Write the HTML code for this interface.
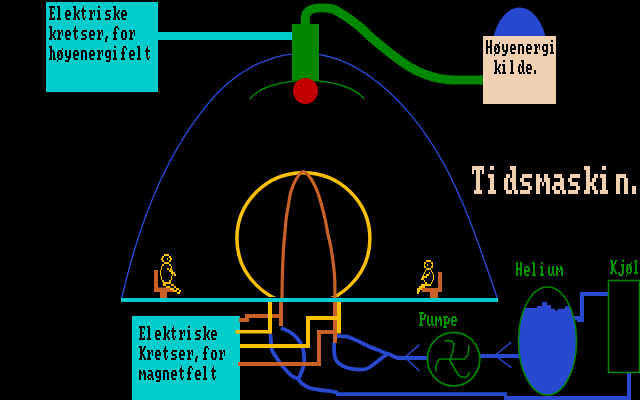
<!DOCTYPE html>
<html><head><meta charset="utf-8"><style>
html,body{margin:0;padding:0;background:#000;width:640px;height:400px;overflow:hidden;font-family:"Liberation Sans",sans-serif}
svg{display:block}
</style></head><body>
<svg width="640" height="400" viewBox="0 0 640 400">
<rect width="640" height="400" fill="#000"/>
<rect x="46" y="2" width="112" height="90" fill="#00CCCC"/>
<rect x="158" y="32" width="134" height="8" fill="#00CCCC"/>
<path d="M121.7,298.4 L122.9,293.0 L124.3,287.6 L125.6,282.2 L127.0,276.8 L128.4,271.5 L129.8,266.1 L131.3,260.8 L132.8,255.5 L134.4,250.2 L136.0,244.9 L137.7,239.6 L139.4,234.4 L141.1,229.1 L142.9,223.9 L144.8,218.7 L146.7,213.6 L148.7,208.4 L150.7,203.3 L152.7,198.2 L154.9,193.1 L157.1,188.1 L159.3,183.0 L161.7,178.0 L164.0,173.1 L166.5,168.1 L169.0,163.2 L171.6,158.4 L174.3,153.5 L177.0,148.7 L179.8,144.0 L182.7,139.2 L185.6,134.5 L188.7,129.9 L191.8,125.2 L195.0,120.7 L198.3,116.1 L201.7,111.6 L205.2,107.2 L208.7,102.9 L212.4,98.7 L216.2,94.6 L220.1,90.6 L224.2,86.7 L228.3,83.0 L232.6,79.5 L237.0,76.1 L241.6,73.0 L246.3,70.0 L251.1,67.2 L256.1,64.7 L261.2,62.4 L266.4,60.3 L271.6,58.5 L277.0,56.9 L282.4,55.6 L287.8,54.6 L293.2,53.9 L298.6,53.4 L304.0,53.3 L309.4,53.4 L314.7,53.9 L319.9,54.6 L325.1,55.7 L330.3,57.0 L335.4,58.5 L340.4,60.4 L345.3,62.4 L350.2,64.7 L355.1,67.2 L359.8,69.9 L364.5,72.8 L369.1,75.9 L373.6,79.2 L378.1,82.6 L382.4,86.2 L386.7,89.9 L390.9,93.8 L395.0,97.7 L399.0,101.8 L402.9,106.0 L406.7,110.2 L410.4,114.6 L414.0,118.9 L417.5,123.4 L420.9,127.9 L424.1,132.4 L427.3,137.0 L430.4,141.6 L433.4,146.2 L436.3,150.9 L439.1,155.6 L441.8,160.4 L444.5,165.2 L447.1,170.0 L449.6,174.9 L452.0,179.7 L454.4,184.7 L456.7,189.6 L458.9,194.6 L461.1,199.6 L463.3,204.6 L465.4,209.7 L467.4,214.7 L469.5,219.8 L471.4,224.9 L473.4,230.1 L475.3,235.3 L477.2,240.4 L479.1,245.6 L480.9,250.9 L482.8,256.1 L484.6,261.3 L486.4,266.6 L488.3,271.9 L490.1,277.2 L491.9,282.5 L493.7,287.8 L495.6,293.1 L497.4,298.4" fill="none" stroke="#2848D0" stroke-width="1.4"/>
<path d="M250,99 A60,27 0 0 1 364,99" fill="none" stroke="#008800" stroke-width="1.5"/>
<rect x="292" y="24" width="27" height="56" fill="#008800"/>
<path d="M305.5,26 C305.50,24.33 305.00,18.50 305.5,16 C306.00,13.50 306.92,12.28 308.5,11 C310.08,9.72 312.42,8.80 315,8.3 C317.58,7.80 320.83,7.80 324,8 C327.17,8.20 330.33,8.08 334,9.5 C337.67,10.92 341.67,13.58 346,16.5 C350.33,19.42 355.42,23.17 360,27 C364.58,30.83 368.33,35.05 373.5,39.5 C378.67,43.95 385.17,49.23 391,53.7 C396.83,58.17 402.67,62.78 408.5,66.3 C414.33,69.82 420.75,72.75 426,74.8 C431.25,76.85 435.67,77.73 440,78.6 C444.33,79.47 444.67,79.77 452,80 C459.33,80.23 478.67,80.00 484,80" fill="none" stroke="#008800" stroke-width="9"/>
<ellipse cx="305.5" cy="91" rx="12.5" ry="13" fill="#C00000"/>
<clipPath id="dm"><rect x="480" y="0" width="80" height="40"/></clipPath><ellipse clip-path="url(#dm)" cx="519.5" cy="56" rx="28.5" ry="48.5" fill="#2848D0"/>
<rect x="483" y="36" width="73" height="68" fill="#F0D0B0"/>
<clipPath id="cy"><rect x="0" y="0" width="640" height="297"/></clipPath><ellipse clip-path="url(#cy)" cx="303.4" cy="238.6" rx="66.5" ry="65.8" fill="none" stroke="#F8C000" stroke-width="3.5"/>
<path d="M282,302 C282.00,301.17 281.93,301.71 282,297 C282.07,292.29 282.13,282.00 282.4,273.75 C282.67,265.50 283.18,254.25 283.6,247.5 C284.02,240.75 284.48,237.96 284.9,233.25 C285.32,228.54 285.52,223.92 286.1,219.25 C286.68,214.58 287.58,209.92 288.4,205.25 C289.22,200.58 289.69,195.62 291,191.25 C292.31,186.88 294.20,182.29 296.25,179 C298.30,175.71 300.82,171.50 303.3,171.5 C305.78,171.50 308.78,175.71 311.1,179 C313.43,182.29 315.50,186.88 317.25,191.25 C319.00,195.62 320.29,200.58 321.6,205.25 C322.91,209.92 324.08,214.58 325.1,219.25 C326.12,223.92 326.78,228.54 327.75,233.25 C328.72,237.96 329.79,240.75 330.9,247.5 C332.01,254.25 333.72,265.50 334.4,273.75 C335.08,282.00 334.90,292.29 335,297 C335.10,301.71 335.00,301.17 335,302" fill="none" stroke="#C86028" stroke-width="3.2"/>
<rect x="0" y="302" width="640" height="98" fill="#000"/>
<rect x="121" y="298" width="377" height="4" fill="#00CCCC"/>
<rect x="132" y="316" width="108" height="84" fill="#00CCCC"/>
<path d="M281,328 C282.50,328.67 287.33,330.33 290,332 C292.67,333.67 295.00,335.67 297,338 C299.00,340.33 300.83,343.33 302,346 C303.17,348.67 303.75,350.67 304,354 C304.25,357.33 304.33,362.00 303.5,366 C302.67,370.00 299.75,376.00 299,378" fill="none" stroke="#2848D0" stroke-width="3.8"/>
<path d="M270.5,334 C270.58,335.33 270.75,339.33 271,342 C271.25,344.67 270.83,347.00 272,350 C273.17,353.00 275.83,356.83 278,360 C280.17,363.17 282.67,366.33 285,369 C287.33,371.67 289.67,374.33 292,376 C294.33,377.67 297.83,378.50 299,379" fill="none" stroke="#2848D0" stroke-width="3.8"/>
<path d="M298,378.5 C298.67,379.33 300.00,381.92 302,383.5 C304.00,385.08 307.00,386.92 310,388 C313.00,389.08 316.67,389.47 320,390 C323.33,390.53 327.00,390.78 330,391.2 C333.00,391.62 336.67,392.28 338,392.5" fill="none" stroke="#2848D0" stroke-width="3.8"/>
<rect x="336" y="392.25" width="171" height="3.75" fill="#2848D0"/>
<rect x="504" y="396" width="127" height="4" fill="#2848D0"/>
<rect x="627" y="373" width="4" height="27" fill="#2848D0"/>
<path d="M336.75,336 C338.29,336.08 343.62,336.17 346,336.5 C348.38,336.83 348.92,337.20 351,338 C353.08,338.80 356.33,340.30 358.5,341.3 C360.67,342.30 362.08,343.05 364,344 C365.92,344.95 367.83,346.08 370,347 C372.17,347.92 374.67,348.58 377,349.5 C379.33,350.42 381.83,351.67 384,352.5 C386.17,353.33 388.17,353.75 390,354.5 C391.83,355.25 393.33,356.42 395,357 C396.67,357.58 399.17,357.83 400,358" fill="none" stroke="#2848D0" stroke-width="3.8"/>
<path d="M334.2,342 C334.20,343.67 333.98,349.17 334.2,352 C334.42,354.83 334.70,357.08 335.5,359 C336.30,360.92 337.42,362.17 339,363.5 C340.58,364.83 342.83,366.12 345,367 C347.17,367.88 349.83,368.38 352,368.8 C354.17,369.22 355.67,369.47 358,369.5 C360.33,369.53 364.00,369.42 366,369 C368.00,368.58 368.67,367.83 370,367 C371.33,366.17 372.67,365.00 374,364 C375.33,363.00 376.50,362.17 378,361 C379.50,359.83 381.50,358.08 383,357 C384.50,355.92 386.33,354.92 387,354.5" fill="none" stroke="#2848D0" stroke-width="3.8"/>
<rect x="396" y="356" width="32" height="4" fill="#2848D0"/>
<rect x="479" y="354" width="41" height="4" fill="#2848D0"/>
<path d="M419.4,344.6 L405,357.5 L419.4,371" fill="none" stroke="#2848D0" stroke-width="1.5"/>
<path d="M511,342.3 L495,355.5 L511.4,367.6" fill="none" stroke="#2848D0" stroke-width="1.5"/>
<path d="M572,318 L582,318 L582,294 L608,294" fill="none" stroke="#2848D0" stroke-width="4"/>
<rect x="577" y="318" width="7" height="4" fill="#2848D0"/>
<rect x="279" y="302" width="4" height="24" fill="#C86028"/>
<rect x="333" y="302" width="4" height="41" fill="#C86028"/>
<path d="M239,320 L247,320 L247,316 L281,316" fill="none" stroke="#C86028" stroke-width="4"/>
<rect x="268" y="302" width="4" height="31.5" fill="#F8C000"/>
<rect x="235.5" y="330" width="36.5" height="3.5" fill="#F8C000"/>
<rect x="337" y="302" width="4" height="31.5" fill="#F8C000"/>
<path d="M240,346 L308,346 L308,318 L339,318" fill="none" stroke="#F8C000" stroke-width="4"/>
<path d="M238,364 L319,364 L319,332 L335,332" fill="none" stroke="#C86028" stroke-width="4"/>
<ellipse cx="453.6" cy="359.1" rx="26.2" ry="26.8" fill="none" stroke="#008800" stroke-width="1.7"/>
<path d="M444.5,340.75 L451.5,340.75 L454,344 L452.4,353 L449.75,360 L451.5,363 L457.6,374 L461,377 L466.4,377 L470,372.25 M439.25,359 L464.6,359 L468,354.75 L469,345 M439.25,359 L435.75,366 L435.75,371.4" fill="none" stroke="#008800" stroke-width="1.6"/>
<clipPath id="he"><ellipse cx="547.5" cy="341" rx="29" ry="54"/></clipPath>
<path clip-path="url(#he)" fill="#2848D0" d="M510,308 L537,308 L537,306 L542,306 L542,302 L547,302 L547,305 L551,305 L551,308.75 L555,308.75 L555,310.6 L558,310.6 L558,308.75 L565,308.75 L565,306.25 L568.75,306.25 L568.75,304 L590,304 L590,400 L510,400 Z"/>
<ellipse cx="547.5" cy="341" rx="29" ry="54" fill="none" stroke="#008800" stroke-width="1.5"/>
<rect x="608.5" y="280.5" width="31" height="92" fill="none" stroke="#008800" stroke-width="1.5"/>
<path d="M154,270 L158,270 L158,287.5 L172.5,287.5 L172.5,291.5 L167,291.5 L167,298 L160,298 L160,291.5 L154,291.5 Z" fill="#C86028"/>
<path d="M442,272 L438,272 L438,288 L422,288 L422,292 L430,292 L430,298 L437,298 L437,292 L442,292 Z" fill="#C86028"/>
<path fill="#C86028" d="M154,270h4v18h16v4h-8v6h-6v-6h-6z"/>
<path fill="#C86028" d="M438,272h4v20h-4v6h-8v-6h-8v-4h16z"/>
<path fill="#F8C000" d="M164 254h5v2h-5zM162 256h2v2h-2zM169 256h2v2h-2zM161 258h2v2h-2zM167 258h1v2h-1zM170 258h2v2h-2zM162 260h2v2h-2zM169 260h2v2h-2zM164 262h5v2h-5zM162 264h2v2h-2zM169 264h2v2h-2zM161 266h1v2h-1zM171 266h1v2h-1zM161 268h1v2h-1zM167 268h2v2h-2zM170 268h2v2h-2zM160 270h1v2h-1zM169 270h4v2h-4zM160 272h1v2h-1zM171 272h4v2h-4zM160 274h1v2h-1zM172 274h1v2h-1zM174 274h2v2h-2zM161 276h1v2h-1zM171 276h1v2h-1zM161 278h1v2h-1zM171 278h1v2h-1zM162 280h2v2h-2zM169 280h2v2h-2zM163 282h8v2h-8zM163 284h3v2h-3zM171 284h3v2h-3zM166 286h4v2h-4zM174 286h2v2h-2zM170 288h4v2h-4zM176 288h3v2h-3zM173 290h4v2h-4zM179 290h2v2h-2zM177 292h3v2h-3z"/>
<path fill="#F8C000" d="M426 260h5v2h-5zM424 262h2v2h-2zM431 262h2v2h-2zM424 264h1v2h-1zM427 264h1v2h-1zM432 264h1v2h-1zM424 266h2v2h-2zM431 266h2v2h-2zM426 268h5v2h-5zM425 270h1v2h-1zM431 270h1v2h-1zM424 272h1v2h-1zM429 272h1v2h-1zM432 272h1v2h-1zM423 274h1v2h-1zM426 274h3v2h-3zM433 274h1v2h-1zM422 276h5v2h-5zM433 276h1v2h-1zM421 278h3v2h-3zM433 278h1v2h-1zM424 280h1v2h-1zM432 280h1v2h-1zM425 282h2v2h-2zM431 282h1v2h-1zM421 284h10v2h-10zM419 286h6v2h-6zM417 288h5v2h-5zM417 290h3v2h-3zM417 292h2v2h-2z"/>
<path fill="#000" d="M49 6h6v2h-6zM50 8h2v2h-2zM54 8h1v2h-1zM50 10h2v2h-2zM50 12h4v2h-4zM50 14h2v2h-2zM50 16h2v2h-2zM54 16h1v2h-1zM49 18h6v2h-6zM57 6h3v2h-3zM58 8h2v2h-2zM58 10h2v2h-2zM58 12h2v2h-2zM58 14h2v2h-2zM58 16h2v2h-2zM57 18h4v2h-4zM66 10h4v2h-4zM65 12h2v2h-2zM69 12h2v2h-2zM65 14h6v2h-6zM65 16h2v2h-2zM66 18h4v2h-4zM73 6h3v2h-3zM74 8h2v2h-2zM74 10h2v2h-2zM78 10h2v2h-2zM74 12h2v2h-2zM77 12h2v2h-2zM74 14h4v2h-4zM74 16h2v2h-2zM77 16h2v2h-2zM73 18h3v2h-3zM78 18h2v2h-2zM83 6h1v2h-1zM82 8h2v2h-2zM81 10h5v2h-5zM82 12h2v2h-2zM82 14h2v2h-2zM82 16h2v2h-2zM85 16h1v2h-1zM83 18h2v2h-2zM89 10h3v2h-3zM93 10h2v2h-2zM90 12h3v2h-3zM94 12h1v2h-1zM90 14h2v2h-2zM94 14h1v2h-1zM90 16h2v2h-2zM89 18h4v2h-4zM98 6h2v2h-2zM97 10h3v2h-3zM98 12h2v2h-2zM98 14h2v2h-2zM98 16h2v2h-2zM97 18h4v2h-4zM106 10h5v2h-5zM105 12h2v2h-2zM106 14h4v2h-4zM109 16h2v2h-2zM105 18h5v2h-5zM113 6h3v2h-3zM114 8h2v2h-2zM114 10h2v2h-2zM118 10h2v2h-2zM114 12h2v2h-2zM117 12h2v2h-2zM114 14h4v2h-4zM114 16h2v2h-2zM117 16h2v2h-2zM113 18h3v2h-3zM118 18h2v2h-2zM122 10h4v2h-4zM121 12h2v2h-2zM125 12h2v2h-2zM121 14h6v2h-6zM121 16h2v2h-2zM122 18h4v2h-4z"/>
<path fill="#000" d="M49 26h3v2h-3zM50 28h2v2h-2zM50 30h2v2h-2zM54 30h2v2h-2zM50 32h2v2h-2zM53 32h2v2h-2zM50 34h4v2h-4zM50 36h2v2h-2zM53 36h2v2h-2zM49 38h3v2h-3zM54 38h2v2h-2zM57 30h3v2h-3zM61 30h2v2h-2zM58 32h3v2h-3zM62 32h1v2h-1zM58 34h2v2h-2zM62 34h1v2h-1zM58 36h2v2h-2zM57 38h4v2h-4zM66 30h4v2h-4zM65 32h2v2h-2zM69 32h2v2h-2zM65 34h6v2h-6zM65 36h2v2h-2zM66 38h4v2h-4zM75 26h1v2h-1zM74 28h2v2h-2zM73 30h5v2h-5zM74 32h2v2h-2zM74 34h2v2h-2zM74 36h2v2h-2zM77 36h1v2h-1zM75 38h2v2h-2zM82 30h5v2h-5zM81 32h2v2h-2zM82 34h4v2h-4zM85 36h2v2h-2zM81 38h5v2h-5zM90 30h4v2h-4zM89 32h2v2h-2zM93 32h2v2h-2zM89 34h6v2h-6zM89 36h2v2h-2zM90 38h4v2h-4zM97 30h3v2h-3zM101 30h2v2h-2zM98 32h3v2h-3zM102 32h1v2h-1zM98 34h2v2h-2zM102 34h1v2h-1zM98 36h2v2h-2zM97 38h4v2h-4zM106 36h2v2h-2zM105 38h2v2h-2zM105 40h2v2h-2zM115 26h3v2h-3zM114 28h2v2h-2zM118 28h1v2h-1zM114 30h2v2h-2zM113 32h4v2h-4zM114 34h2v2h-2zM114 36h2v2h-2zM113 38h4v2h-4zM122 30h4v2h-4zM121 32h2v2h-2zM125 32h2v2h-2zM121 34h2v2h-2zM125 34h2v2h-2zM121 36h2v2h-2zM125 36h2v2h-2zM122 38h4v2h-4zM129 30h3v2h-3zM133 30h2v2h-2zM130 32h3v2h-3zM134 32h1v2h-1zM130 34h2v2h-2zM134 34h1v2h-1zM130 36h2v2h-2zM129 38h4v2h-4z"/>
<path fill="#000" d="M49 46h3v2h-3zM50 48h2v2h-2zM50 50h4v2h-4zM50 52h2v2h-2zM53 52h2v2h-2zM50 54h2v2h-2zM53 54h2v2h-2zM50 56h2v2h-2zM53 56h2v2h-2zM49 58h3v2h-3zM53 58h3v2h-3zM62 48h1v2h-1zM58 50h4v2h-4zM57 52h2v2h-2zM60 52h3v2h-3zM57 54h3v2h-3zM61 54h2v2h-2zM57 56h2v2h-2zM61 56h2v2h-2zM58 58h4v2h-4zM57 60h1v2h-1zM65 50h2v2h-2zM69 50h2v2h-2zM65 52h2v2h-2zM69 52h2v2h-2zM65 54h2v2h-2zM69 54h2v2h-2zM66 56h5v2h-5zM68 58h2v2h-2zM65 60h4v2h-4zM74 50h4v2h-4zM73 52h2v2h-2zM77 52h2v2h-2zM73 54h6v2h-6zM73 56h2v2h-2zM74 58h4v2h-4zM81 50h5v2h-5zM81 52h2v2h-2zM85 52h2v2h-2zM81 54h2v2h-2zM85 54h2v2h-2zM81 56h2v2h-2zM85 56h2v2h-2zM81 58h2v2h-2zM85 58h2v2h-2zM90 50h4v2h-4zM89 52h2v2h-2zM93 52h2v2h-2zM89 54h6v2h-6zM89 56h2v2h-2zM90 58h4v2h-4zM97 50h3v2h-3zM101 50h2v2h-2zM98 52h3v2h-3zM102 52h1v2h-1zM98 54h2v2h-2zM102 54h1v2h-1zM98 56h2v2h-2zM97 58h4v2h-4zM106 50h5v2h-5zM105 52h2v2h-2zM109 52h2v2h-2zM105 54h2v2h-2zM109 54h2v2h-2zM106 56h5v2h-5zM109 58h2v2h-2zM106 60h4v2h-4zM114 46h2v2h-2zM113 50h3v2h-3zM114 52h2v2h-2zM114 54h2v2h-2zM114 56h2v2h-2zM113 58h4v2h-4zM123 46h3v2h-3zM122 48h2v2h-2zM126 48h1v2h-1zM122 50h2v2h-2zM121 52h4v2h-4zM122 54h2v2h-2zM122 56h2v2h-2zM121 58h4v2h-4zM130 50h4v2h-4zM129 52h2v2h-2zM133 52h2v2h-2zM129 54h6v2h-6zM129 56h2v2h-2zM130 58h4v2h-4zM137 46h3v2h-3zM138 48h2v2h-2zM138 50h2v2h-2zM138 52h2v2h-2zM138 54h2v2h-2zM138 56h2v2h-2zM137 58h4v2h-4zM147 46h1v2h-1zM146 48h2v2h-2zM145 50h5v2h-5zM146 52h2v2h-2zM146 54h2v2h-2zM146 56h2v2h-2zM149 56h1v2h-1zM147 58h2v2h-2z"/>
<path fill="#000" d="M486 40h2v2h-2zM490 40h2v2h-2zM486 42h2v2h-2zM490 42h2v2h-2zM486 44h2v2h-2zM490 44h2v2h-2zM486 46h6v2h-6zM486 48h2v2h-2zM490 48h2v2h-2zM486 50h2v2h-2zM490 50h2v2h-2zM486 52h2v2h-2zM490 52h2v2h-2zM499 42h1v2h-1zM495 44h4v2h-4zM494 46h2v2h-2zM497 46h3v2h-3zM494 48h3v2h-3zM498 48h2v2h-2zM494 50h2v2h-2zM498 50h2v2h-2zM495 52h4v2h-4zM494 54h1v2h-1zM502 44h2v2h-2zM506 44h2v2h-2zM502 46h2v2h-2zM506 46h2v2h-2zM502 48h2v2h-2zM506 48h2v2h-2zM503 50h5v2h-5zM505 52h2v2h-2zM502 54h4v2h-4zM511 44h4v2h-4zM510 46h2v2h-2zM514 46h2v2h-2zM510 48h6v2h-6zM510 50h2v2h-2zM511 52h4v2h-4zM518 44h5v2h-5zM518 46h2v2h-2zM522 46h2v2h-2zM518 48h2v2h-2zM522 48h2v2h-2zM518 50h2v2h-2zM522 50h2v2h-2zM518 52h2v2h-2zM522 52h2v2h-2zM527 44h4v2h-4zM526 46h2v2h-2zM530 46h2v2h-2zM526 48h6v2h-6zM526 50h2v2h-2zM527 52h4v2h-4zM534 44h3v2h-3zM538 44h2v2h-2zM535 46h3v2h-3zM539 46h1v2h-1zM535 48h2v2h-2zM539 48h1v2h-1zM535 50h2v2h-2zM534 52h4v2h-4zM543 44h5v2h-5zM542 46h2v2h-2zM546 46h2v2h-2zM542 48h2v2h-2zM546 48h2v2h-2zM543 50h5v2h-5zM546 52h2v2h-2zM543 54h4v2h-4zM551 40h2v2h-2zM550 44h3v2h-3zM551 46h2v2h-2zM551 48h2v2h-2zM551 50h2v2h-2zM550 52h4v2h-4z"/>
<path fill="#000" d="M494 60h3v2h-3zM495 62h2v2h-2zM495 64h2v2h-2zM499 64h2v2h-2zM495 66h2v2h-2zM498 66h2v2h-2zM495 68h4v2h-4zM495 70h2v2h-2zM498 70h2v2h-2zM494 72h3v2h-3zM499 72h2v2h-2zM503 60h2v2h-2zM502 64h3v2h-3zM503 66h2v2h-2zM503 68h2v2h-2zM503 70h2v2h-2zM502 72h4v2h-4zM510 60h3v2h-3zM511 62h2v2h-2zM511 64h2v2h-2zM511 66h2v2h-2zM511 68h2v2h-2zM511 70h2v2h-2zM510 72h4v2h-4zM521 60h3v2h-3zM522 62h2v2h-2zM519 64h2v2h-2zM522 64h2v2h-2zM518 66h2v2h-2zM521 66h3v2h-3zM518 68h2v2h-2zM522 68h2v2h-2zM518 70h2v2h-2zM522 70h2v2h-2zM519 72h3v2h-3zM523 72h2v2h-2zM527 64h4v2h-4zM526 66h2v2h-2zM530 66h2v2h-2zM526 68h6v2h-6zM526 70h2v2h-2zM527 72h4v2h-4zM534 70h2v2h-2zM534 72h2v2h-2z"/>
<path fill="#000" d="M139 326h6v2h-6zM140 328h2v2h-2zM144 328h1v2h-1zM140 330h2v2h-2zM140 332h4v2h-4zM140 334h2v2h-2zM140 336h2v2h-2zM144 336h1v2h-1zM139 338h6v2h-6zM147 326h3v2h-3zM148 328h2v2h-2zM148 330h2v2h-2zM148 332h2v2h-2zM148 334h2v2h-2zM148 336h2v2h-2zM147 338h4v2h-4zM156 330h4v2h-4zM155 332h2v2h-2zM159 332h2v2h-2zM155 334h6v2h-6zM155 336h2v2h-2zM156 338h4v2h-4zM163 326h3v2h-3zM164 328h2v2h-2zM164 330h2v2h-2zM168 330h2v2h-2zM164 332h2v2h-2zM167 332h2v2h-2zM164 334h4v2h-4zM164 336h2v2h-2zM167 336h2v2h-2zM163 338h3v2h-3zM168 338h2v2h-2zM173 326h1v2h-1zM172 328h2v2h-2zM171 330h5v2h-5zM172 332h2v2h-2zM172 334h2v2h-2zM172 336h2v2h-2zM175 336h1v2h-1zM173 338h2v2h-2zM179 330h3v2h-3zM183 330h2v2h-2zM180 332h3v2h-3zM184 332h1v2h-1zM180 334h2v2h-2zM184 334h1v2h-1zM180 336h2v2h-2zM179 338h4v2h-4zM188 326h2v2h-2zM187 330h3v2h-3zM188 332h2v2h-2zM188 334h2v2h-2zM188 336h2v2h-2zM187 338h4v2h-4zM196 330h5v2h-5zM195 332h2v2h-2zM196 334h4v2h-4zM199 336h2v2h-2zM195 338h5v2h-5zM203 326h3v2h-3zM204 328h2v2h-2zM204 330h2v2h-2zM208 330h2v2h-2zM204 332h2v2h-2zM207 332h2v2h-2zM204 334h4v2h-4zM204 336h2v2h-2zM207 336h2v2h-2zM203 338h3v2h-3zM208 338h2v2h-2zM212 330h4v2h-4zM211 332h2v2h-2zM215 332h2v2h-2zM211 334h6v2h-6zM211 336h2v2h-2zM212 338h4v2h-4z"/>
<path fill="#000" d="M139 346h3v2h-3zM144 346h2v2h-2zM140 348h2v2h-2zM143 348h2v2h-2zM140 350h4v2h-4zM140 352h3v2h-3zM140 354h4v2h-4zM140 356h2v2h-2zM143 356h2v2h-2zM139 358h3v2h-3zM144 358h2v2h-2zM147 350h3v2h-3zM151 350h2v2h-2zM148 352h3v2h-3zM152 352h1v2h-1zM148 354h2v2h-2zM152 354h1v2h-1zM148 356h2v2h-2zM147 358h4v2h-4zM156 350h4v2h-4zM155 352h2v2h-2zM159 352h2v2h-2zM155 354h6v2h-6zM155 356h2v2h-2zM156 358h4v2h-4zM165 346h1v2h-1zM164 348h2v2h-2zM163 350h5v2h-5zM164 352h2v2h-2zM164 354h2v2h-2zM164 356h2v2h-2zM167 356h1v2h-1zM165 358h2v2h-2zM172 350h5v2h-5zM171 352h2v2h-2zM172 354h4v2h-4zM175 356h2v2h-2zM171 358h5v2h-5zM180 350h4v2h-4zM179 352h2v2h-2zM183 352h2v2h-2zM179 354h6v2h-6zM179 356h2v2h-2zM180 358h4v2h-4zM187 350h3v2h-3zM191 350h2v2h-2zM188 352h3v2h-3zM192 352h1v2h-1zM188 354h2v2h-2zM192 354h1v2h-1zM188 356h2v2h-2zM187 358h4v2h-4zM196 356h2v2h-2zM195 358h2v2h-2zM195 360h2v2h-2zM205 346h3v2h-3zM204 348h2v2h-2zM208 348h1v2h-1zM204 350h2v2h-2zM203 352h4v2h-4zM204 354h2v2h-2zM204 356h2v2h-2zM203 358h4v2h-4zM212 350h4v2h-4zM211 352h2v2h-2zM215 352h2v2h-2zM211 354h2v2h-2zM215 354h2v2h-2zM211 356h2v2h-2zM215 356h2v2h-2zM212 358h4v2h-4zM219 350h3v2h-3zM223 350h2v2h-2zM220 352h3v2h-3zM224 352h1v2h-1zM220 354h2v2h-2zM224 354h1v2h-1zM220 356h2v2h-2zM219 358h4v2h-4z"/>
<path fill="#000" d="M139 370h2v2h-2zM143 370h2v2h-2zM139 372h3v2h-3zM143 372h3v2h-3zM139 374h2v2h-2zM142 374h1v2h-1zM144 374h2v2h-2zM139 376h2v2h-2zM144 376h2v2h-2zM139 378h2v2h-2zM144 378h2v2h-2zM148 370h4v2h-4zM151 372h2v2h-2zM148 374h5v2h-5zM147 376h2v2h-2zM151 376h2v2h-2zM148 378h3v2h-3zM152 378h2v2h-2zM156 370h5v2h-5zM155 372h2v2h-2zM159 372h2v2h-2zM155 374h2v2h-2zM159 374h2v2h-2zM156 376h5v2h-5zM159 378h2v2h-2zM156 380h4v2h-4zM163 370h5v2h-5zM163 372h2v2h-2zM167 372h2v2h-2zM163 374h2v2h-2zM167 374h2v2h-2zM163 376h2v2h-2zM167 376h2v2h-2zM163 378h2v2h-2zM167 378h2v2h-2zM172 370h4v2h-4zM171 372h2v2h-2zM175 372h2v2h-2zM171 374h6v2h-6zM171 376h2v2h-2zM172 378h4v2h-4zM181 366h1v2h-1zM180 368h2v2h-2zM179 370h5v2h-5zM180 372h2v2h-2zM180 374h2v2h-2zM180 376h2v2h-2zM183 376h1v2h-1zM181 378h2v2h-2zM189 366h3v2h-3zM188 368h2v2h-2zM192 368h1v2h-1zM188 370h2v2h-2zM187 372h4v2h-4zM188 374h2v2h-2zM188 376h2v2h-2zM187 378h4v2h-4zM196 370h4v2h-4zM195 372h2v2h-2zM199 372h2v2h-2zM195 374h6v2h-6zM195 376h2v2h-2zM196 378h4v2h-4zM203 366h3v2h-3zM204 368h2v2h-2zM204 370h2v2h-2zM204 372h2v2h-2zM204 374h2v2h-2zM204 376h2v2h-2zM203 378h4v2h-4zM213 366h1v2h-1zM212 368h2v2h-2zM211 370h5v2h-5zM212 372h2v2h-2zM212 374h2v2h-2zM212 376h2v2h-2zM215 376h1v2h-1zM213 378h2v2h-2z"/>
<path fill="#009000" d="M419 312h5v2h-5zM420 314h2v2h-2zM424 314h2v2h-2zM420 316h2v2h-2zM424 316h2v2h-2zM420 318h5v2h-5zM420 320h2v2h-2zM420 322h2v2h-2zM419 324h4v2h-4zM427 316h2v2h-2zM431 316h2v2h-2zM427 318h2v2h-2zM431 318h2v2h-2zM427 320h2v2h-2zM431 320h2v2h-2zM427 322h2v2h-2zM431 322h2v2h-2zM428 324h3v2h-3zM432 324h2v2h-2zM435 316h2v2h-2zM439 316h2v2h-2zM435 318h3v2h-3zM439 318h3v2h-3zM435 320h2v2h-2zM438 320h1v2h-1zM440 320h2v2h-2zM435 322h2v2h-2zM440 322h2v2h-2zM435 324h2v2h-2zM440 324h2v2h-2zM443 316h5v2h-5zM444 318h2v2h-2zM448 318h2v2h-2zM444 320h2v2h-2zM448 320h2v2h-2zM444 322h5v2h-5zM444 324h2v2h-2zM443 326h4v2h-4zM452 316h4v2h-4zM451 318h2v2h-2zM455 318h2v2h-2zM451 320h6v2h-6zM451 322h2v2h-2zM452 324h4v2h-4z"/>
<path fill="#009000" d="M516 262h2v2h-2zM520 262h2v2h-2zM516 264h2v2h-2zM520 264h2v2h-2zM516 266h2v2h-2zM520 266h2v2h-2zM516 268h6v2h-6zM516 270h2v2h-2zM520 270h2v2h-2zM516 272h2v2h-2zM520 272h2v2h-2zM516 274h2v2h-2zM520 274h2v2h-2zM525 266h4v2h-4zM524 268h2v2h-2zM528 268h2v2h-2zM524 270h6v2h-6zM524 272h2v2h-2zM525 274h4v2h-4zM532 262h3v2h-3zM533 264h2v2h-2zM533 266h2v2h-2zM533 268h2v2h-2zM533 270h2v2h-2zM533 272h2v2h-2zM532 274h4v2h-4zM541 262h2v2h-2zM540 266h3v2h-3zM541 268h2v2h-2zM541 270h2v2h-2zM541 272h2v2h-2zM540 274h4v2h-4zM548 266h2v2h-2zM552 266h2v2h-2zM548 268h2v2h-2zM552 268h2v2h-2zM548 270h2v2h-2zM552 270h2v2h-2zM548 272h2v2h-2zM552 272h2v2h-2zM549 274h3v2h-3zM553 274h2v2h-2zM556 266h2v2h-2zM560 266h2v2h-2zM556 268h3v2h-3zM560 268h3v2h-3zM556 270h2v2h-2zM559 270h1v2h-1zM561 270h2v2h-2zM556 272h2v2h-2zM561 272h2v2h-2zM556 274h2v2h-2zM561 274h2v2h-2z"/>
<path fill="#009000" d="M610 260h3v2h-3zM615 260h2v2h-2zM611 262h2v2h-2zM614 262h2v2h-2zM611 264h4v2h-4zM611 266h3v2h-3zM611 268h4v2h-4zM611 270h2v2h-2zM614 270h2v2h-2zM610 272h3v2h-3zM615 272h2v2h-2zM622 260h2v2h-2zM621 264h3v2h-3zM622 266h2v2h-2zM622 268h2v2h-2zM622 270h2v2h-2zM618 272h2v2h-2zM622 272h2v2h-2zM619 274h4v2h-4zM631 262h1v2h-1zM627 264h4v2h-4zM626 266h2v2h-2zM629 266h3v2h-3zM626 268h3v2h-3zM630 268h2v2h-2zM626 270h2v2h-2zM630 270h2v2h-2zM627 272h4v2h-4zM626 274h1v2h-1zM634 260h3v2h-3zM635 262h2v2h-2zM635 264h2v2h-2zM635 266h2v2h-2zM635 268h2v2h-2zM635 270h2v2h-2zM634 272h4v2h-4z"/>
<path fill="#F0D0B0" d="M472 166h12v4h-12zM472 170h2v4h-2zM476 170h4v4h-4zM482 170h2v4h-2zM476 174h4v4h-4zM476 178h4v4h-4zM476 182h4v4h-4zM476 186h4v4h-4zM474 190h8v4h-8zM490 166h4v4h-4zM488 174h6v4h-6zM490 178h4v4h-4zM490 182h4v4h-4zM490 186h4v4h-4zM488 190h8v4h-8zM510 166h6v4h-6zM512 170h4v4h-4zM506 174h4v4h-4zM512 174h4v4h-4zM504 178h4v4h-4zM510 178h6v4h-6zM504 182h4v4h-4zM512 182h4v4h-4zM504 186h4v4h-4zM512 186h4v4h-4zM506 190h6v4h-6zM514 190h4v4h-4zM522 174h10v4h-10zM520 178h4v4h-4zM522 182h8v4h-8zM528 186h4v4h-4zM520 190h10v4h-10zM536 174h4v4h-4zM544 174h4v4h-4zM536 178h6v4h-6zM544 178h6v4h-6zM536 182h4v4h-4zM542 182h2v4h-2zM546 182h4v4h-4zM536 186h4v4h-4zM546 186h4v4h-4zM536 190h4v4h-4zM546 190h4v4h-4zM554 174h8v4h-8zM560 178h4v4h-4zM554 182h10v4h-10zM552 186h4v4h-4zM560 186h4v4h-4zM554 190h6v4h-6zM562 190h4v4h-4zM570 174h10v4h-10zM568 178h4v4h-4zM570 182h8v4h-8zM576 186h4v4h-4zM568 190h10v4h-10zM584 166h6v4h-6zM586 170h4v4h-4zM586 174h4v4h-4zM594 174h4v4h-4zM586 178h4v4h-4zM592 178h4v4h-4zM586 182h8v4h-8zM586 186h4v4h-4zM592 186h4v4h-4zM584 190h6v4h-6zM594 190h4v4h-4zM602 166h4v4h-4zM600 174h6v4h-6zM602 178h4v4h-4zM602 182h4v4h-4zM602 186h4v4h-4zM600 190h8v4h-8zM616 174h10v4h-10zM616 178h4v4h-4zM624 178h4v4h-4zM616 182h4v4h-4zM624 182h4v4h-4zM616 186h4v4h-4zM624 186h4v4h-4zM616 190h4v4h-4zM624 190h4v4h-4zM632 186h4v4h-4zM632 190h4v4h-4z"/>
</svg>
</body></html>
